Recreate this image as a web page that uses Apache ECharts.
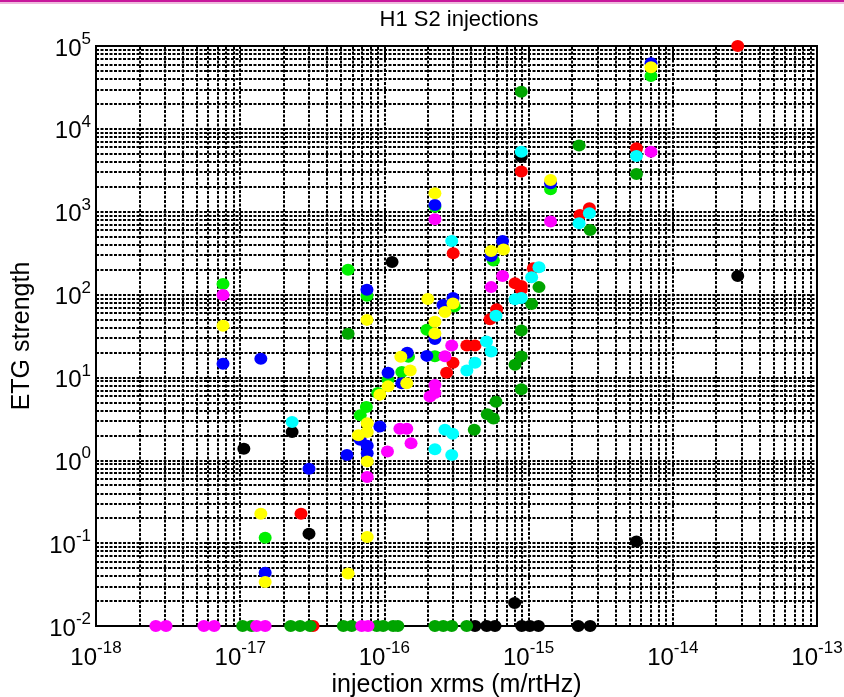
<!DOCTYPE html>
<html><head><meta charset="utf-8">
<script src="https://cdn.jsdelivr.net/npm/echarts@6/dist/echarts.min.js"></script>
<style>html,body{margin:0;padding:0;background:#fff}#c{width:844px;height:697px}</style>
</head><body><div id="c"></div>
<script>
// ---- tick labels (exponents of 10) ----
const xTickExps = ['-18','-17','-16','-15','-14','-13'];
const yTickExps = ['-2','-1','0','1','2','3','4','5'];

// ---- data: [xrms (m/rtHz), ETG strength] ----
const blackPts = [[1.06e-17,1.38],[2.29e-17,2.2],[3.0e-17,0.13],[1.13e-16,248],[8.9e-16,4620],[2.82e-14,168],[5.6e-15,0.105],[8.0e-16,0.0189],
  [4.25e-16,0.01],[5.12e-16,0.01],[5.85e-16,0.01],[8.96e-16,0.01],[1.02e-15,0.01],[1.17e-15,0.01],[2.21e-15,0.01],[2.67e-15,0.01]];
const redPts = [[2.64e-17,0.226],[3.2e-17,0.01],[3.0e-16,316],[8.9e-16,3050],[2.82e-14,100000],[5.6e-15,5840],[2.64e-15,1100],[2.27e-15,915],
  [1.08e-15,208],[8.05e-16,137],[8.9e-16,127],[8.9e-16,115],[6.0e-16,66.7],[5.4e-16,50.5],[3.73e-16,24.3],[4.25e-16,24.3],[2.99e-16,15],[2.7e-16,11.4]];
const darkGreenPts = [[5.6e-17,33.6],[8.9e-16,28100],[2.24e-15,6280],[5.6e-15,2860],[2.67e-15,603],[1.18e-15,123],[1.05e-15,77],[8.9e-16,36.8],
  [8.9e-16,17.9],[8.05e-16,14.2],[8.9e-16,7.2],[5.94e-16,5.1],[5.17e-16,3.6],[5.7e-16,3.2],[4.2e-16,2.33],
  [1.04e-17,0.01],[1.2e-17,0.01],[2.24e-17,0.01],[2.6e-17,0.01],[3.05e-17,0.01],[5.19e-17,0.01],[5.93e-17,0.01],[8.85e-17,0.01],
  [9.8e-17,0.01],[1.15e-16,0.01],[1.24e-16,0.01],[2.24e-16,0.01],[2.56e-16,0.01],[2.93e-16,0.01],[3.72e-16,0.01]];
const greenPts = [[7.6e-18,134],[1.49e-17,0.116],[5.6e-17,199],[7.57e-17,97],[3.05e-16,72],[1.47e-16,17.8],[1.32e-16,11.6],[1.06e-16,9.4],
  [9.0e-17,6.5],[7.5e-17,4.4],[6.8e-17,3.5],[2.24e-16,18],[1.97e-16,37.5],[2.24e-16,1150],[5.7e-16,257],[1.42e-15,1870],[7.06e-15,43500]];
const bluePts = [[7.6e-18,14.6],[1.39e-17,16.8],[3.0e-17,0.79],[1.49e-17,0.044],[7.57e-17,114],[2.99e-16,91],[2.55e-16,75],[2.24e-16,29],
  [1.44e-16,19.8],[1.97e-16,18.2],[1.06e-16,11.4],[1.32e-16,8.5],[9.3e-17,2.56],[6.8e-17,1.77],[7.6e-17,1.5],[7.6e-17,1.22],[5.5e-17,1.16],
  [2.24e-16,1208],[6.6e-16,444],[5.5e-16,293],[1.42e-15,2210],[7.06e-15,62000]];
const yellowPts = [[7.6e-18,42],[1.39e-17,0.226],[1.49e-17,0.034],[5.6e-17,0.043],[7.57e-17,49.5],[7.6e-17,0.119],[7.6e-17,0.97],[2.0e-16,88.7],
  [2.99e-16,78],[2.63e-16,61.8],[2.24e-16,46.9],[2.24e-16,34],[1.30e-16,17.8],[1.51e-16,12.1],[1.43e-16,8.5],[1.06e-16,7.8],[9.3e-17,6.2],
  [7.6e-17,2.8],[7.6e-17,2.2],[6.6e-17,2.0],[2.24e-16,1671],[5.5e-16,336],[6.7e-16,350],[1.42e-15,2420],[7.06e-15,55300]];
const magentaPts = [[7.6e-18,99],[7.6e-17,0.63],[2.24e-16,811],[1.42e-15,760],[7.06e-15,5300],[6.6e-16,168],[5.5e-16,123],[2.93e-16,24.3],
  [2.63e-16,18],[2.24e-16,8.1],[2.24e-16,6.5],[2.07e-16,5.9],[1.28e-16,2.4],[1.43e-16,2.4],[1.53e-16,1.61],[1.05e-16,1.28],
  [2.6e-18,0.01],[3.06e-18,0.01],[5.6e-18,0.01],[6.6e-18,0.01],[1.3e-17,0.01],[1.49e-17,0.01],[6.96e-17,0.01],[7.7e-17,0.01]];
const cyanPts = [[2.29e-17,2.9],[8.9e-16,5300],[5.6e-15,4710],[2.64e-15,960],[2.24e-15,726],[2.93e-16,444],[1.18e-15,213],[1.05e-15,162],
  [8.05e-16,88],[8.9e-16,91],[5.94e-16,55.4],[5.1e-16,27.1],[5.5e-16,20.5],[4.25e-16,15],[3.73e-16,12.1],[2.63e-16,2.33],[2.97e-16,2.09],
  [2.24e-16,1.36],[2.93e-16,1.16]];

const seriesDefs = [
  ['black', blackPts, '#000000'],
  ['red', redPts, '#ff0000'],
  ['darkgreen', darkGreenPts, '#00a400'],
  ['green', greenPts, '#00f000'],
  ['blue', bluePts, '#0000ff'],
  ['yellow', yellowPts, '#ffff00'],
  ['magenta', magentaPts, '#ff00ff'],
  ['cyan', cyanPts, '#00ffff']
];

const X_MIN = 1e-18, X_MAX = 1e-13, Y_MIN = 1e-2, Y_MAX = 1e5;
// minor grid values (2..9 x 10^d)
const xMinor = [], yMinor = [];
for (let d = -18; d <= -14; d++) for (let m = 2; m <= 9; m++) xMinor.push(Number(m + 'e' + d));
for (let d = -2; d <= 4; d++) for (let m = 2; m <= 9; m++) yMinor.push(Number(m + 'e' + d));

const FONT = '"Liberation Sans", Arial, sans-serif';
const gridLine = {color:'#000', width:2, type:[3,1.5], opacity:1};
const richX = {
  b:{fontSize:24, color:'#000', fontFamily:FONT, verticalAlign:'bottom', lineHeight:26},
  s:{fontSize:17, color:'#000', fontFamily:FONT, verticalAlign:'bottom', padding:[0,0,13,0]}
};

const chart = echarts.init(document.getElementById('c'));
const gridData = xMinor.map(v => ({coords:[[v, Y_MIN],[v, Y_MAX]]}))
  .concat(yMinor.map(v => ({coords:[[X_MIN, v],[X_MAX, v]]})));
const series = [{
  type:'lines', coordinateSystem:'cartesian2d', data:gridData, z:1, silent:true, polyline:false,
  lineStyle:gridLine, animation:false
}];
seriesDefs.forEach(([name, pts, color]) => series.push({
  name, type:'scatter', data:pts, symbol:'circle', symbolSize:[13,12], clip:false, z:5,
  itemStyle:{color:color, opacity:1}
}));

chart.setOption({
  animation:false,
  backgroundColor:'#fff',
  title:{text:'H1 S2 injections', left:454, top:4, textAlign:'center',
    textStyle:{fontFamily:FONT, fontSize:22, fontWeight:'normal', color:'#000'}},
  grid:{left:96, right:27, top:46, bottom:71, show:true, borderColor:'#000', borderWidth:2, backgroundColor:'#fff',
    containLabel:false, outerBoundsMode:'none'},
  xAxis:{type:'log', logBase:10, min:X_MIN, max:X_MAX, splitNumber:5,
    name:'injection xrms (m/rtHz)', nameLocation:'middle', nameGap:47, nameMoveOverlap:false,
    nameTextStyle:{fontFamily:FONT, fontSize:25, color:'#000'},
    axisLine:{show:true, lineStyle:{color:'#000', width:2}}, axisTick:{show:false},
    splitLine:{show:true, lineStyle:gridLine},
    axisLabel:{margin:14, color:'#000', hideOverlap:false,
      formatter:function(v){const e = xTickExps[Math.round(Math.log10(v)) + 18]; return '{b|10}{s|' + e + '}';},
      rich:richX}},
  yAxis:{type:'log', logBase:10, min:Y_MIN, max:Y_MAX, splitNumber:7,
    name:'ETG strength', nameLocation:'middle', nameGap:61, nameMoveOverlap:false,
    nameTextStyle:{fontFamily:FONT, fontSize:25, color:'#000'},
    axisLine:{show:true, lineStyle:{color:'#000', width:2}}, axisTick:{show:false},
    splitLine:{show:true, lineStyle:gridLine},
    axisLabel:{margin:5, color:'#000',
      formatter:function(v){const e = yTickExps[Math.round(Math.log10(v)) + 2]; return '{b|10}{s|' + e + '}';},
      rich:{b:richX.b, s:richX.s}}},
  graphic:[
    {type:'rect', left:0, top:0, shape:{width:844, height:2}, style:{fill:'#c8189c'}, z:100},
    {type:'rect', left:0, top:2, shape:{width:844, height:2}, style:{fill:'#eebbdd'}, z:100}
  ],
  series:series
});
</script></body></html>
